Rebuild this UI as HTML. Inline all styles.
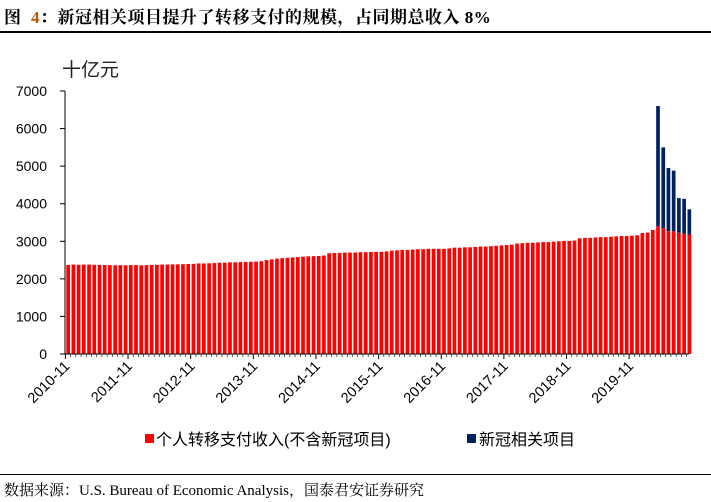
<!DOCTYPE html>
<html><head><meta charset="utf-8"><style>
body{margin:0;background:#fff;width:711px;height:502px;overflow:hidden;position:relative;font-family:"Liberation Serif","Noto Serif CJK SC",serif}
.t{position:absolute;white-space:nowrap}
</style></head><body>
<div class="t" style="left:4px;top:3px;font-size:17px;font-weight:bold;letter-spacing:0.5px">图&nbsp; <span style="color:#c05a00">4</span>：新冠相关项目提升了转移支付的规模，占同期总收入 8%</div>
<div style="position:absolute;left:0;top:31px;width:711px;height:2px;background:#000"></div>
<div style="position:absolute;left:0;top:474px;width:711px;height:1px;background:#000"></div>
<div class="t" style="left:4px;top:479px;font-size:15px">数据来源：U.S. Bureau of Economic Analysis，国泰君安证券研究</div>
<svg id="c" width="711" height="470" style="position:absolute;left:0;top:0" font-family="Liberation Sans, Noto Sans CJK SC, sans-serif"></svg>
<script>
const months=[];for(let i=0;i<120;i++){const y=2010+Math.floor((10+i)/12),m=(10+i)%12+1;months.push(y+'-'+(m<10?'0':'')+m);}
const transfer=[2370,2380,2375,2380,2380,2375,2370,2370,2365,2360,2365,2360,
2365,2370,2360,2365,2370,2375,2380,2380,2385,2385,2390,2395,
2400,2410,2410,2415,2420,2430,2430,2440,2440,2445,2450,2455,
2460,2470,2500,2520,2540,2550,2560,2570,2580,2590,2600,2605,
2610,2620,2680,2690,2690,2700,2700,2700,2710,2710,2715,2720,
2720,2730,2750,2760,2770,2770,2780,2790,2790,2800,2800,2800,
2800,2810,2830,2830,2840,2840,2850,2860,2860,2870,2880,2890,
2900,2910,2940,2950,2960,2960,2970,2980,2980,2990,3000,3010,
3010,3020,3080,3090,3090,3100,3110,3110,3120,3130,3140,3140,
3150,3160,3220,3230,3300,3400,3350,3270,3270,3230,3200,3180];
const covid=new Array(113).fill(0).concat([3200,2150,1680,1610,920,930,670]);
const yTicks=[0,1000,2000,3000,4000,5000,6000,7000];
const tickLabels=['2010-11','2011-11','2012-11','2013-11','2014-11','2015-11','2016-11','2017-11','2018-11','2019-11'];
const svg=document.getElementById('c'),NS='http://www.w3.org/2000/svg';
function mk(t,a,p){const e=document.createElementNS(NS,t);for(const k in a)e.setAttribute(k,a[k]);(p||svg).appendChild(e);return e;}
const x0=66,pitch=5.22,bw=3.7,yb=354,yt=91;
const y=v=>yb-(v/7000)*(yb-yt);
const xc=i=>x0+i*pitch+0.3;
yTicks.forEach(v=>{const t=mk('text',{x:47,y:y(v)+5,'text-anchor':'end','font-size':14,fill:'#000'});t.textContent=v;


const l=mk('line',{x1:60,x2:65,y1:y(v),y2:y(v),stroke:'#000'});

});
const ut=mk('text',{x:62,y:76,'font-size':19,fill:'#222'});ut.textContent='十亿元';


transfer.forEach((v,i)=>{const r=mk('rect',{x:xc(i),y:y(v),width:bw,height:yb-y(v),fill:'#ff0000'});


if(covid[i]>0){const c=mk('rect',{x:xc(i),y:y(v+covid[i]),width:bw,height:y(v)-y(v+covid[i]),fill:'#002060'});

}});
const ax=mk('line',{x1:65,x2:65,y1:yt,y2:yb,stroke:'#000'});


const xa=mk('line',{x1:65,x2:689,y1:yb,y2:yb,stroke:'#000'});


months.forEach((m,i)=>{const tx=xc(i)-0.9,big=tickLabels.includes(m);
const l=mk('line',{x1:tx,x2:tx,y1:yb,y2:yb+(big?5:3),stroke:'#000','stroke-width':big?1:0.6});


if(big){const t=mk('text',{x:tx+5,y:yb+13,'text-anchor':'end','font-size':14.5,transform:`rotate(-45 ${tx+5} ${yb+13})`});t.textContent=m;

}});
const g1=mk('rect',{x:145,y:434,width:9,height:9,fill:'#ff0000'});


const l1=mk('text',{x:156,y:445,'font-size':16});l1.textContent='个人转移支付收入(不含新冠项目)';


const g2=mk('rect',{x:467,y:434,width:9,height:9,fill:'#002060'});


const l2=mk('text',{x:479,y:445,'font-size':16});l2.textContent='新冠相关项目';


</script>
</body></html>
